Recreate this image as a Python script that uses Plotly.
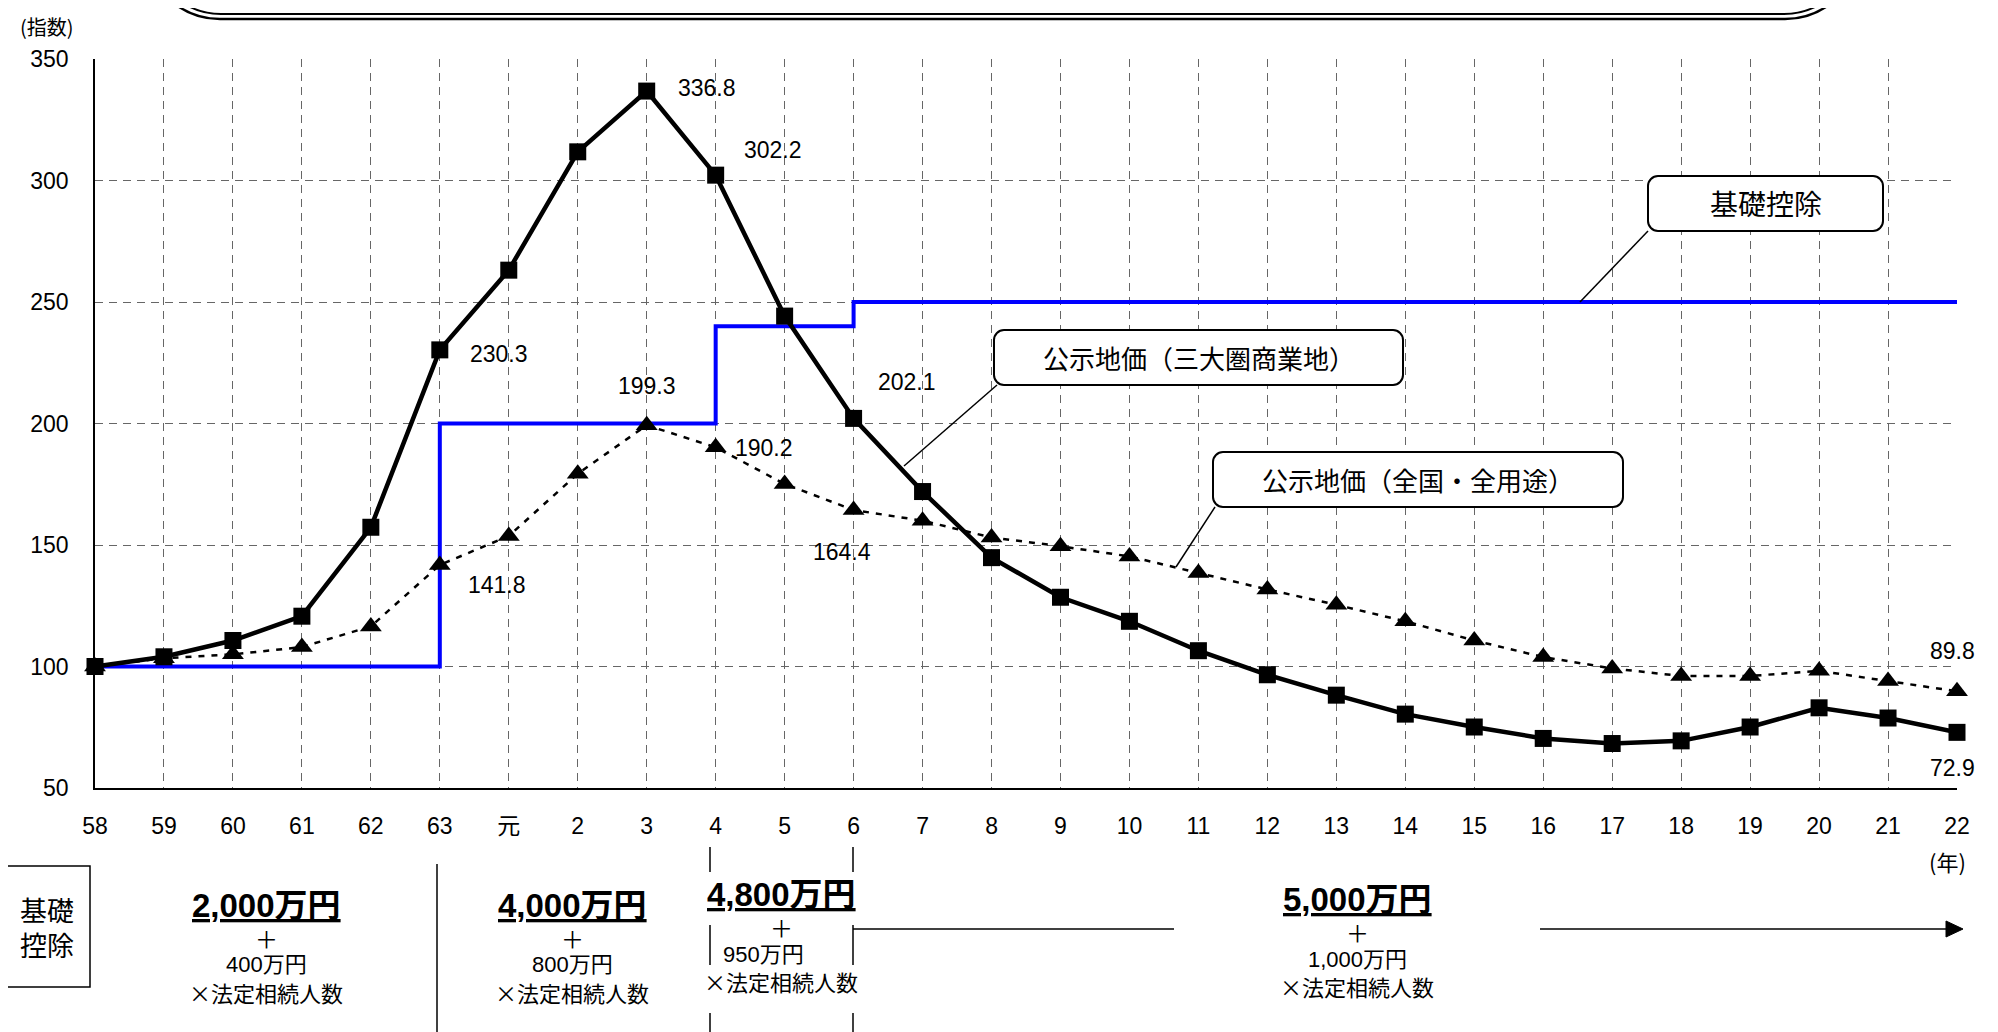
import plotly.graph_objects as go

# ---------------- data ----------------
categories = ["58", "59", "60", "61", "62", "63", "元", "2", "3", "4", "5", "6", "7", "8",
              "9", "10", "11", "12", "13", "14", "15", "16", "17", "18", "19", "20", "21", "22"]
commercial = [100, 104, 110.7, 120.7, 157.3, 230.3, 263.1, 311.8, 336.8, 302.2, 244.2, 202.1,
              172, 144.8, 128.5, 118.6, 106.5, 96.6, 88.2, 80.4, 75.1, 70.4, 68.3, 69.4,
              75.1, 83, 78.8, 72.9]
national = [100, 103.4, 105, 108, 116.5, 141.8, 153.7, 179.3, 199.3, 190.2, 175.1, 164.4,
            160, 153.1, 149.5, 145.3, 138.5, 131.7, 125.4, 118.6, 110.7, 103.9, 99.2, 96.1,
            96.1, 98.2, 94, 89.8]
deduction = [100, 100, 100, 100, 100, 200, 200, 200, 200, 240, 240, 250, 250, 250,
             250, 250, 250, 250, 250, 250, 250, 250, 250, 250, 250, 250, 250, 250]
y_ticks = [50, 100, 150, 200, 250, 300, 350]

series_names = ["基礎控除", "公示地価（三大圏商業地）", "公示地価（全国・全用途）"]
commercial_labels = ["63", "3", "4", "6", "22"]
national_labels = ["63", "3", "4", "6", "22"]

deduction_periods = [
    ("2,000万円", "400万円"),
    ("4,000万円", "800万円"),
    ("4,800万円", "950万円"),
    ("5,000万円", "1,000万円"),
]

# ---------------- geometry helpers (page pixel coords) ----------------
PAGE_W, PAGE_H = 1998, 1032
OFF = 8                      # default body margin of the html page
W, H = PAGE_W - OFF, PAGE_H - OFF
L, R, T, B = 95, 1957, 59, 788
NUM = "Liberation Sans, Arial, Noto Sans CJK JP"
JP = "Noto Sans CJK JP, Liberation Sans"


def px(x):
    return (x - L) / (R - L)


def py(y):
    return (B - y) / (B - T)


def rrect(x0, y0, x1, y1, r):
    X0, X1, Yt, Yb = px(x0), px(x1), py(y0), py(y1)
    rx, ry = r / (R - L), r / (B - T)
    k = 0.55
    return (f"M{X0 + rx},{Yt} L{X1 - rx},{Yt} C{X1 - rx + k * rx},{Yt} {X1},{Yt - ry + k * ry} {X1},{Yt - ry} "
            f"L{X1},{Yb + ry} C{X1},{Yb + ry - k * ry} {X1 - rx + k * rx},{Yb} {X1 - rx},{Yb} "
            f"L{X0 + rx},{Yb} C{X0 + rx - k * rx},{Yb} {X0},{Yb + ry - k * ry} {X0},{Yb + ry} "
            f"L{X0},{Yt - ry} C{X0},{Yt - ry + k * ry} {X0 + rx - k * rx},{Yt} {X0 + rx},{Yt} Z")


def line(x0, y0, x1, y1, w=1.5):
    return dict(type="line", xref="paper", yref="paper", x0=px(x0), y0=py(y0),
                x1=px(x1), y1=py(y1), line=dict(color="black", width=w), layer="above")


def text(x, y, s, size=22, family=JP, **kw):
    return dict(xref="paper", yref="paper", x=px(x), y=py(y), text=s, showarrow=False,
                font=dict(size=size, family=family, color="black"),
                xanchor="center", yanchor="middle", **kw)


fig = go.Figure()

fig.add_trace(go.Scatter(
    x=categories, y=deduction, name=series_names[0], mode="lines", line_shape="hv",
    line=dict(color="#0000FF", width=4), cliponaxis=False))
fig.add_trace(go.Scatter(
    x=categories, y=national, name=series_names[2], mode="lines+markers",
    line=dict(color="black", width=2.5, dash="6px,7px"),
    marker=dict(symbol="triangle-up", size=19, color="black"), cliponaxis=False))
fig.add_trace(go.Scatter(
    x=categories, y=commercial, name=series_names[1], mode="lines+markers",
    line=dict(color="black", width=4.5),
    marker=dict(symbol="square", size=17, color="black"), cliponaxis=False))

annotations = []
c_off = {"63": (59, -4), "3": (60, 3), "4": (57, 25), "6": (53, 36), "22": (-5, -36)}
n_off = {"63": (57, -20), "3": (0, 39), "4": (48, -1), "6": (-12, -42), "22": (-5, 40)}
for cat in commercial_labels:
    i = categories.index(cat)
    v = commercial[i]
    dx, dy = c_off[cat]
    annotations.append(dict(x=i, y=v, text=f"{v:.1f}", showarrow=False, xshift=dx, yshift=dy,
                            font=dict(size=23, family=NUM, color="black")))
for cat in national_labels:
    i = categories.index(cat)
    v = national[i]
    dx, dy = n_off[cat]
    annotations.append(dict(x=i, y=v, text=f"{v:.1f}", showarrow=False, xshift=dx, yshift=dy,
                            font=dict(size=23, family=NUM, color="black")))

shapes = []
# title box (double rounded border, mostly above the page)
shapes.append(dict(type="path", xref="paper", yref="paper", path=rrect(145, -160, 1860, 19, 75),
                   line=dict(color="black", width=2.5), layer="above"))
shapes.append(dict(type="path", xref="paper", yref="paper", path=rrect(151, -160, 1854, 14, 70),
                   line=dict(color="black", width=2), layer="above"))

# callout boxes
callouts = [
    (1648, 176, 1883, 231, series_names[0], 28, (1648, 231, 1580, 302)),
    (994, 330, 1403, 385, series_names[1], 26, (997, 385, 904, 466)),
    (1213, 452, 1623, 507, series_names[2], 26, (1215, 507, 1176, 567)),
]
for x0, y0, x1, y1, s, fs, ld in callouts:
    shapes.append(line(*ld, w=1.5))
    shapes.append(dict(type="path", xref="paper", yref="paper", path=rrect(x0, y0, x1, y1, 10),
                       line=dict(color="black", width=2), fillcolor="white", layer="above"))
    annotations.append(text((x0 + x1) / 2, (y0 + y1) / 2, s, size=fs))

# axis captions
annotations.append(text(47, 26, "(指数)", size=20))
annotations.append(text(1947, 861, "(年)", size=22))

# bottom deduction table
shapes.append(dict(type="rect", xref="paper", yref="paper", x0=px(4), y0=py(866), x1=px(90), y1=py(987),
                   line=dict(color="black", width=1.5), fillcolor="white", layer="above"))
annotations.append(text(47, 927, "基礎<br>控除", size=27))
shapes.append(line(437, 864, 437, 1040))
for xx in (710, 853):
    shapes.append(line(xx, 847, xx, 872))
    shapes.append(line(xx, 925, xx, 965))
    shapes.append(line(xx, 1013, xx, 1040))
shapes.append(line(853, 929, 1174, 929))
shapes.append(line(1540, 929, 1950, 929))
shapes.append(dict(type="path", xref="paper", yref="paper",
                   path=f"M{px(1963)},{py(929)} L{px(1946)},{py(921)} L{px(1946)},{py(937)} Z",
                   fillcolor="black", line=dict(color="black", width=1), layer="above"))

centers = [(266, 905, 266), (572, 905, 572), (781, 894, 763), (1357, 899, 1357)]
for (big, small), (cx, cy, sx) in zip(deduction_periods, centers):
    annotations.append(text(cx, cy, f"<b><u>{big}</u></b>", size=33, family=NUM))
    annotations.append(text(cx, cy + 33, "＋", size=23))
    annotations.append(text(sx, cy + 60, small, size=22, family=NUM))
    annotations.append(text(cx, cy + 87, "×法定相続人数", size=22))

grid = dict(showgrid=True, gridcolor="#666666", gridwidth=1, griddash="8px,6px")
fig.update_layout(
    width=W, height=H,
    margin=dict(l=L - OFF, r=PAGE_W - R, t=T - OFF, b=PAGE_H - B, autoexpand=False),
    paper_bgcolor="white", plot_bgcolor="white", showlegend=False,
    font=dict(family=NUM, size=23, color="black"),
    xaxis=dict(type="category", categoryorder="array", categoryarray=categories,
               range=[0, len(categories) - 1], showline=True, linecolor="black", linewidth=1.5,
               ticks="", ticklabelstandoff=17, tickfont=dict(size=23, family=NUM),
               automargin=False, zeroline=False, **grid),
    yaxis=dict(range=[50, 350], tickvals=y_ticks, showline=True, linecolor="black", linewidth=1.5,
               ticks="", ticklabelstandoff=20, tickfont=dict(size=23, family=NUM),
               automargin=False, zeroline=False, **grid),
    annotations=annotations, shapes=shapes,
)

fig.write_html("out.html")
